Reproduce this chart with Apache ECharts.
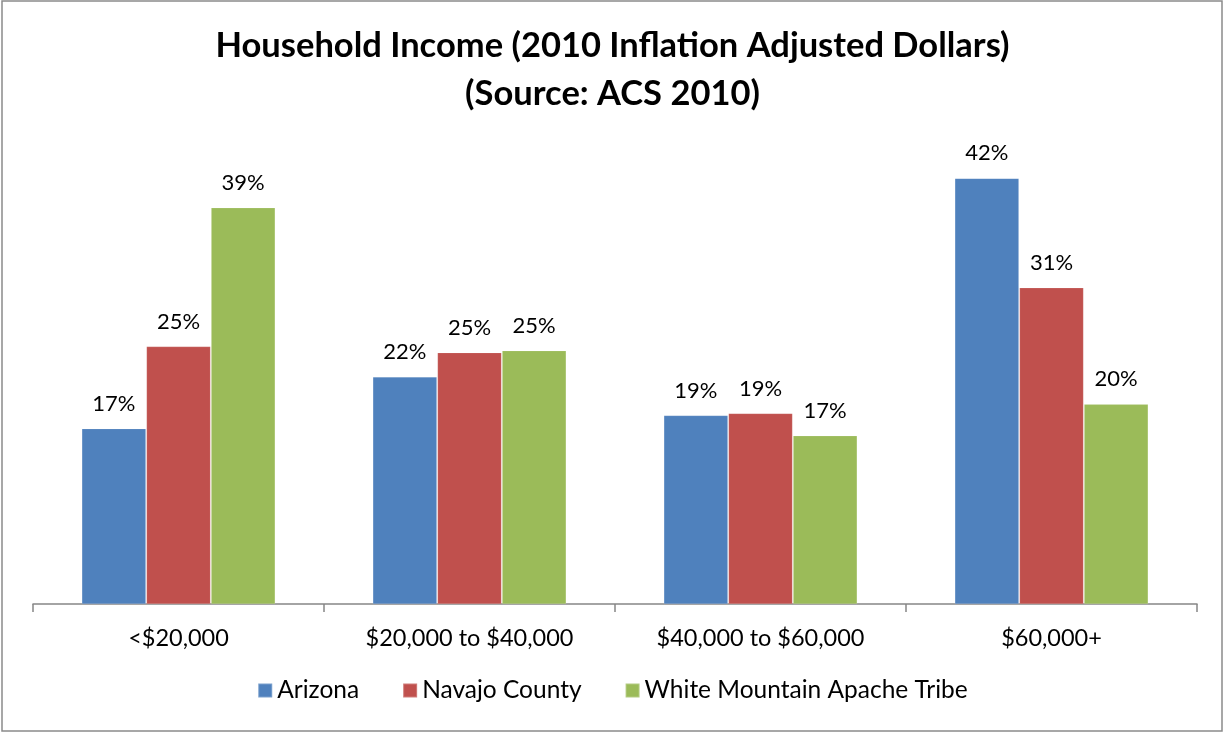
<!DOCTYPE html>
<html>
<head>
<meta charset="utf-8">
<script src="https://cdn.jsdelivr.net/npm/echarts@6/dist/echarts.min.js"></script>
<style>
  html, body { margin: 0; padding: 0; background: #fff; }
  #chart { width: 1225px; height: 733px; }
</style>
</head>
<body>
<div id="chart"></div>
<script>
// income brackets
const categories = ['<$20,000', '$20,000 to $40,000', '$40,000 to $60,000', '$60,000+'];
// share of households, %
const arizona = [17.3, 22.4, 18.6, 42.0];
const navajo = [25.4, 24.8, 18.8, 31.2];
const whiteMountain = [39.1, 25.0, 16.6, 19.7];
const seriesNames = ['Arizona', 'Navajo County', 'White Mountain Apache Tribe'];

const FONT = 'Lato, "Open Sans", sans-serif';
const colors = ['#4F81BD', '#C0504D', '#9BBB59'];

let chart = echarts.init(document.getElementById('chart'));

function makeBar(name, data, i) {
  return {
    name: name,
    type: 'bar',
    data: data,
    barWidth: 64,
    barGap: '1%',
    itemStyle: { color: colors[i], borderColor: 'rgba(255,255,255,0.25)', borderWidth: 0.5 },
    label: {
      show: true,
      position: 'top',
      distance: 14,
      color: '#000',
      fontFamily: FONT,
      fontSize: 22,
      formatter: (p) => Math.round(p.value) + '%'
    }
  };
}

chart.setOption({
  animation: false,
  color: colors,
  title: {
    text: 'Household Income (2010 Inflation Adjusted Dollars)\n(Source: ACS 2010)',
    left: 'center',
    top: 17,
    textStyle: {
      fontFamily: FONT,
      fontWeight: 'bold',
      fontSize: 34.5,
      lineHeight: 48,
      color: '#000'
    }
  },
  legend: {
    bottom: 25,
    left: 'center',
    itemWidth: 14,
    itemHeight: 14,
    itemGap: 43,
    icon: 'rect',
    textStyle: { fontFamily: FONT, fontSize: 24.5, color: '#000' },
    data: seriesNames
  },
  grid: { left: 33, right: 28, top: 148, bottom: 129 },
  xAxis: {
    type: 'category',
    data: categories,
    axisLine: { lineStyle: { color: '#868686', width: 1.5 } },
    axisTick: { show: true, length: 8, lineStyle: { color: '#868686', width: 1.5 } },
    axisLabel: { fontFamily: FONT, fontSize: 23.5, color: '#000', margin: 22 }
  },
  yAxis: {
    type: 'value',
    min: 0,
    max: 45,
    show: false,
    splitLine: { show: false }
  },
  graphic: [{
    type: 'rect',
    shape: { x: 2, y: 1, width: 1220, height: 730 },
    style: { fill: null, stroke: '#8a8a8a', lineWidth: 1.5 },
    silent: true
  }],
  series: [
    makeBar(seriesNames[0], arizona, 0),
    makeBar(seriesNames[1], navajo, 1),
    makeBar(seriesNames[2], whiteMountain, 2)
  ]
});
</script>
</body>
</html>
